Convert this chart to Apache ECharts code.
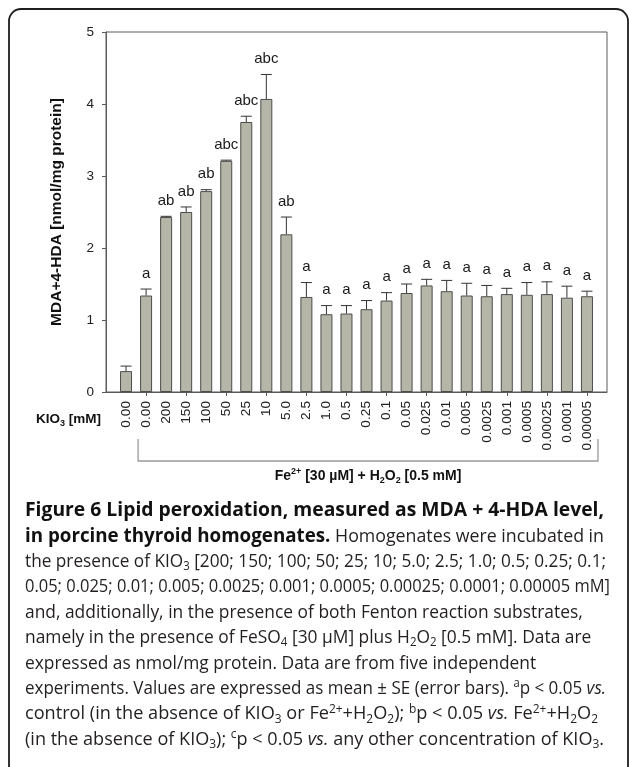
<!DOCTYPE html>
<html><head><meta charset="utf-8">
<script src="https://cdn.jsdelivr.net/npm/echarts@6/dist/echarts.min.js"></script>
<style>html,body{margin:0;padding:0;background:#fff}#c{width:629px;height:767px}</style>
</head><body><div id="c"></div>
<script>
// ---- data ----
const categories = ['0.00','0.00','200','150','100','50','25','10','5.0','2.5','1.0','0.5','0.25','0.1','0.05','0.025','0.01','0.005','0.0025','0.001','0.0005','0.00025','0.0001','0.00005'];
const meanValues = [0.29,1.34,2.43,2.50,2.79,3.21,3.75,4.07,2.19,1.32,1.08,1.09,1.15,1.27,1.375,1.48,1.40,1.34,1.33,1.36,1.35,1.36,1.31,1.33];
const seValues   = [0.07,0.09,0.01,0.07,0.02,0.01,0.08,0.34,0.24,0.20,0.12,0.11,0.12,0.11,0.125,0.085,0.15,0.17,0.15,0.08,0.17,0.17,0.16,0.07];
const sigLabels  = ['','a','ab','ab','ab','abc','abc','abc','ab','a','a','a','a','a','a','a','a','a','a','a','a','a','a','a'];
const yTicks = [0,1,2,3,4,5];

// ---- build ----
const AX = 'Liberation Sans, Arial, Helvetica, sans-serif';
const CAP = 'Open Sans, sans-serif';
const xData = [''].concat(categories, ['']);
const barData = ['-'].concat(meanValues, ['-']);
const errData = meanValues.map((m, i) => [i + 1, m, m + seValues[i]]);

const chart = echarts.init(document.getElementById('c'), null, {renderer: 'canvas'});

const option = {
  animation: false,
  backgroundColor: '#fff',
  grid: {left: 106, top: 32, right: 22, bottom: 375, show: true, borderColor: '#5a5a5a', borderWidth: 1, backgroundColor: 'transparent'},
  xAxis: {
    type: 'category', data: xData, boundaryGap: false,
    axisLine: {lineStyle: {color: '#5a5a5a', width: 1}},
    axisTick: {length: 4, lineStyle: {color: '#5a5a5a'}, interval: (idx) => idx >= 2 && idx <= xData.length - 2 && idx % 2 === 0},
    axisLabel: {rotate: 90, interval: 0, margin: 9, fontFamily: AX, fontSize: 13.7, color: '#222'},
    splitLine: {show: false}
  },
  yAxis: {
    type: 'value', min: yTicks[0], max: yTicks[yTicks.length - 1], interval: yTicks[1] - yTicks[0],
    axisLine: {show: true, lineStyle: {color: '#5a5a5a', width: 1}},
    axisTick: {show: true, length: 4, lineStyle: {color: '#5a5a5a'}},
    axisLabel: {margin: 12, fontFamily: AX, fontSize: 13.5, color: '#222'},
    splitLine: {show: false},
    name: 'MDA+4-HDA [nmol/mg protein]', nameLocation: 'middle', nameGap: 41, nameRotate: 90,
    nameTextStyle: {fontFamily: AX, fontSize: 15.5, fontWeight: 'bold', color: '#111'}
  },
  series: [
    {
      type: 'bar', data: barData, barWidth: 12,
      itemStyle: {color: '#b5b6a8', borderColor: '#4d4d4d', borderWidth: 1},
      z: 2
    },
    {
      type: 'custom', data: errData, z: 3,
      renderItem: function (params, api) {
        const x = api.value(0), m = api.value(1), t = api.value(2);
        const p0 = api.coord([x, m]), p1 = api.coord([x, t]);
        const half = 5.5;
        const children = [
          {type: 'line', shape: {x1: p0[0], y1: p0[1], x2: p1[0], y2: p1[1]}, style: {stroke: '#333', lineWidth: 1}},
          {type: 'line', shape: {x1: p1[0] - half, y1: p1[1], x2: p1[0] + half, y2: p1[1]}, style: {stroke: '#333', lineWidth: 1}}
        ];
        const lab = sigLabels[params.dataIndex];
        if (lab) {
          children.push({type: 'text', x: p1[0], y: p1[1] - 8,
            style: {text: lab, align: 'center', verticalAlign: 'bottom', fontFamily: AX, fontSize: 15, fill: '#1a1a1a'}});
        }
        return {type: 'group', children: children};
      }
    }
  ]
};
chart.setOption(option);

// ---- annotations (positions derived from the axes) ----
const xFirst = chart.convertToPixel({xAxisIndex: 0}, 2);   // first Fe2+ bar (index 1 + padding)
const xLast = chart.convertToPixel({xAxisIndex: 0}, xData.length - 2);
const y0 = chart.convertToPixel({yAxisIndex: 0}, 0);
const bL = xFirst - 8, bR = xLast + 11, bTop = y0 + 47, bBot = y0 + 69;

// ---- caption ----
const fsB = 19, fsN = 18, fsS = 18 * 0.66;
const LH = 22;
const capColor = '#231f20';
const rich = {
  b: {fontFamily: CAP, fontWeight: 'bold', fontSize: fsB, fill: '#111', lineHeight: LH},
  n: {fontFamily: CAP, fontWeight: 'normal', fontSize: fsN, fill: capColor, lineHeight: LH},
  i: {fontFamily: CAP, fontWeight: 'normal', fontStyle: 'italic', fontSize: fsN, fill: capColor, lineHeight: LH},
  sub: {fontFamily: CAP, fontSize: fsS, fill: capColor, lineHeight: 13, verticalAlign: 'bottom'},
  sup: {fontFamily: CAP, fontSize: fsS, fill: capColor, lineHeight: 14, verticalAlign: 'top'}
};
const fontOf = {
  b: 'bold ' + fsB + 'px Open Sans', n: 'normal ' + fsN + 'px Open Sans', i: 'italic ' + fsN + 'px Open Sans',
  sub: 'normal ' + fsS + 'px Open Sans', sup: 'normal ' + fsS + 'px Open Sans'
};
const captionLines = [
  '{b|Figure 6 Lipid peroxidation, measured as MDA + 4-HDA level,}',
  '{b|in porcine thyroid homogenates.}{n| Homogenates were incubated in}',
  '{n|the presence of KIO}{sub|3}{n| [200; 150; 100; 50; 25; 10; 5.0; 2.5; 1.0; 0.5; 0.25; 0.1;}',
  '{n|0.05; 0.025; 0.01; 0.005; 0.0025; 0.001; 0.0005; 0.00025; 0.0001; 0.00005 mM]}',
  '{n|and, additionally, in the presence of both Fenton reaction substrates,}',
  '{n|namely in the presence of FeSO}{sub|4}{n| [30 µM] plus H}{sub|2}{n|O}{sub|2}{n| [0.5 mM]. Data are}',
  '{n|expressed as nmol/mg protein. Data are from five independent}',
  '{n|experiments. Values are expressed as mean ± SE (error bars). }{sup|a}{n|p < 0.05 }{i|vs.}',
  '{n|control (in the absence of KIO}{sub|3}{n| or Fe}{sup|2+}{n|+H}{sub|2}{n|O}{sub|2}{n|); }{sup|b}{n|p < 0.05 }{i|vs.}{n| Fe}{sup|2+}{n|+H}{sub|2}{n|O}{sub|2}',
  '{n|(in the absence of KIO}{sub|3}{n|); }{sup|c}{n|p < 0.05 }{i|vs.}{n| any other concentration of KIO}{sub|3}{n|.}'
];
const captionLeft = 25;
// right edge per line for lines that run to the margin; null = ragged line
const captionRightEdges = [604, 604, 606, 610, null, null, null, 606, 598, 604];

const ctx = document.createElement('canvas').getContext('2d');
function richWidth(str) {
  let w = 0; const re = /\{(\w+)\|([^}]*)\}/g; let m;
  while ((m = re.exec(str))) { ctx.font = fontOf[m[1]]; w += ctx.measureText(m[2]).width; }
  return w;
}
const scales = captionLines.map((t, k) => captionRightEdges[k] ? (captionRightEdges[k] - captionLeft) / richWidth(t) : null);
const normalFitted = [2, 3, 7, 8, 9].map(k => scales[k]);
const baseScale = normalFitted.reduce((a, b) => a + b, 0) / normalFitted.length;

const graphics = [
  {type: 'rect', shape: {x: 9, y: 9, width: 619, height: 800, r: 12}, style: {fill: 'none', stroke: '#1e1e1e', lineWidth: 1.8}, z: 10},
  {type: 'polyline', shape: {points: [[bL, bTop], [bL, bBot], [bR, bBot], [bR, bTop]]}, style: {fill: 'none', stroke: '#9a9a9a', lineWidth: 1.3}, z: 10},
  {type: 'text', x: (bL + bR) / 2, y: bBot + 15, z: 10,
    style: {text: '{t|Fe}{s|2+}{t| [30 µM] + H}{d|2}{t|O}{d|2}{t| [0.5 mM]}', align: 'center', verticalAlign: 'middle',
      rich: {
        t: {fontFamily: AX, fontWeight: 'bold', fontSize: 14, fill: '#111', lineHeight: 18},
        s: {fontFamily: AX, fontWeight: 'bold', fontSize: 9, fill: '#111', lineHeight: 11, verticalAlign: 'top'},
        d: {fontFamily: AX, fontWeight: 'bold', fontSize: 9, fill: '#111', lineHeight: 11, verticalAlign: 'bottom'}
      }}},
  {type: 'text', x: 101, y: y0 + 27, z: 10,
    style: {text: '{t|KIO}{d|3}{t| [mM]}', align: 'right', verticalAlign: 'middle',
      rich: {
        t: {fontFamily: AX, fontWeight: 'bold', fontSize: 13.5, fill: '#111', lineHeight: 18},
        d: {fontFamily: AX, fontWeight: 'bold', fontSize: 9, fill: '#111', lineHeight: 11, verticalAlign: 'bottom'}
      }}}
];
captionLines.forEach((t, k) => {
  const sx = scales[k] || baseScale;
  graphics.push({type: 'text', x: captionLeft, y: 511 + k * 25.4, z: 10, scaleX: sx,
    style: {text: t, align: 'left', verticalAlign: 'middle', lineHeight: LH, rich: rich}});
});
chart.setOption({graphic: graphics});
</script>
</body></html>
